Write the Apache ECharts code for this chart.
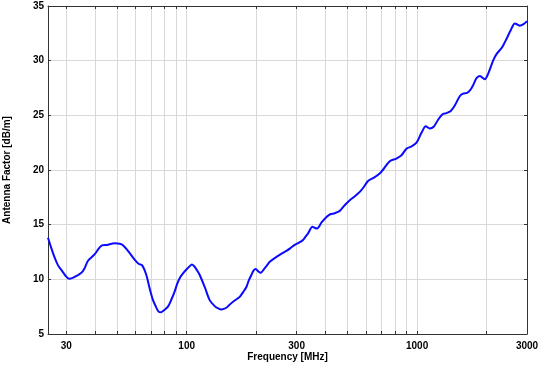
<!DOCTYPE html>
<html>
<head>
<meta charset="utf-8">
<script src="https://cdn.jsdelivr.net/npm/echarts@6/dist/echarts.min.js"></script>
<style>
  html, body { margin: 0; padding: 0; background: #fff; }
  #chart { width: 540px; height: 365px; }
</style>
</head>
<body>
<div id="chart"></div>
<script>
// 频率 MHz
let freq = [
  25, 25.8, 26.7, 27.6, 28.6, 30, 31, 32.5, 34.9, 36, 37.3, 39.9, 41.5, 42.9, 45, 48.7,
  51.2, 53, 55.6, 59.4, 62, 64, 66.8, 69, 71.4, 73.5, 75.5, 77.5, 80, 82.9, 86, 88.7,
  91, 93.2, 96, 99.7, 103, 105.4, 108.3, 111, 113.9, 119.7, 125.8, 132.3, 137, 141.5,
  145, 148.7, 153, 158.9, 165, 169.9, 176, 181.6, 186, 190.9, 195, 199.3, 204, 209.6,
  215, 221.8, 229.3, 245.2, 258, 271, 282, 294.4, 307, 319.9, 328, 336.3, 351.5, 360,
  368, 385, 404.4, 420, 439.2, 461.8, 485, 510.4, 537, 563.9, 585, 612.7, 650, 690,
  710, 761, 813, 855.6, 899.5, 945.6, 994, 1045, 1091, 1135, 1180, 1234, 1290, 1340,
  1400, 1458, 1532, 1584, 1650, 1700, 1751, 1811, 1872, 1920, 1968, 2034, 2138, 2212,
  2326, 2380, 2445, 2552, 2656, 2730, 2792, 2900, 3000
]

// 天线系数 dB/m
let antennaFactor = [
  13.8, 12.9, 12.0, 11.3, 10.85, 10.25, 10.05, 10.2, 10.6, 11.0, 11.7, 12.3, 12.8, 13.1, 13.15, 13.3,
  13.25, 13.1, 12.6, 11.8, 11.4, 11.3, 10.4, 9.2, 8.1, 7.5, 7.05, 7.0, 7.2, 7.5, 8.2, 8.9,
  9.6, 10.1, 10.5, 10.9, 11.2, 11.35, 11.15, 10.8, 10.4, 9.3, 8.1, 7.55, 7.35, 7.25,
  7.3, 7.4, 7.65, 7.95, 8.2, 8.4, 8.85, 9.3, 9.9, 10.4, 10.8, 10.95, 10.75, 10.6,
  10.85, 11.2, 11.6, 12.05, 12.35, 12.6, 12.85, 13.15, 13.35, 13.6, 13.9, 14.2, 14.8, 14.7,
  14.65, 15.2, 15.7, 15.95, 16.05, 16.26, 16.78, 17.24, 17.6, 18.0, 18.4, 19.0, 19.3, 19.7,
  20.0, 20.8, 21.05, 21.35, 21.95, 22.15, 22.5, 23.4, 24.0, 23.8, 23.95, 24.6, 25.1, 25.2,
  25.4, 25.9, 26.75, 26.98, 27.05, 27.3, 27.75, 28.4, 28.6, 28.45, 28.3, 28.8, 30.0, 30.6,
  31.15, 31.5, 32.0, 32.8, 33.4, 33.3, 33.2, 33.35, 33.6
]

// 网格线位置 和 刻度标签
let gridFreq = [30, 40, 50, 60, 70, 80, 90, 100, 200, 300, 400, 500, 600, 700, 800, 900, 1000, 2000, 3000]
let labelFreq = [30, 100, 300, 1000, 3000]

let font = 'Liberation Sans, Arial, sans-serif'

let axisCommon = {
  axisLine: { show: true, lineStyle: { color: '#333', width: 1 } },
  axisTick: { show: true, inside: true, length: 3, lineStyle: { color: '#333' } },
  splitLine: { show: true, lineStyle: { color: '#d9d9d9', width: 1 } }
}

let xAxisBase = function (pos, showLabel) {
  return {
    type: 'log',
    logBase: 10,
    position: pos,
    min: 25,
    max: 3000,
    axisLine: axisCommon.axisLine,
    axisTick: Object.assign({}, axisCommon.axisTick, { customValues: gridFreq }),
    splitLine: axisCommon.splitLine,
    axisLabel: {
      show: showLabel,
      customValues: labelFreq,
      margin: 7,
      color: '#000',
      fontFamily: font,
      fontWeight: 'bold',
      fontSize: 10,
      formatter: function (v) { return String(Math.round(v)) }
    }
  }
}

let yAxisBase = function (pos, showLabel) {
  return {
    type: 'value',
    position: pos,
    min: 5,
    max: 35,
    interval: 5,
    axisLine: axisCommon.axisLine,
    axisTick: axisCommon.axisTick,
    splitLine: axisCommon.splitLine,
    axisLabel: {
      show: showLabel,
      margin: 4,
      color: '#000',
      fontFamily: font,
      fontWeight: 'bold',
      fontSize: 10
    }
  }
}

let xBottom = xAxisBase('bottom', true)
xBottom.name = 'Frequency [MHz]'
xBottom.nameLocation = 'middle'
xBottom.nameGap = 18
xBottom.nameMoveOverlap = false
xBottom.nameTextStyle = { color: '#000', fontFamily: font, fontWeight: 'bold', fontSize: 10 }

let yLeft = yAxisBase('left', true)
yLeft.name = 'Antenna Factor [dB/m]'
yLeft.nameLocation = 'middle'
yLeft.nameGap = 36
yLeft.nameMoveOverlap = false
yLeft.nameTextStyle = { color: '#000', fontFamily: font, fontWeight: 'bold', fontSize: 10 }

let chartOption = {
  animation: false,
  backgroundColor: '#fff',
  grid: { left: 48, right: 13, top: 6, bottom: 31, outerBoundsMode: 'none', containLabel: false },
  xAxis: [xBottom, xAxisBase('top', false)],
  yAxis: [yLeft, yAxisBase('right', false)],
  series: [{
    type: 'line',
    xAxisIndex: 0,
    yAxisIndex: 0,
    showSymbol: false,
    smooth: 0.3,
    lineStyle: { color: '#0a0aff', width: 2 },
    data: freq.map((f, i) => [f, antennaFactor[i]])
  }]
}

let el = document.querySelector('#chart')
let chartInstance = echarts.init(el)
chartInstance.setOption(chartOption)
</script>
</body>
</html>
